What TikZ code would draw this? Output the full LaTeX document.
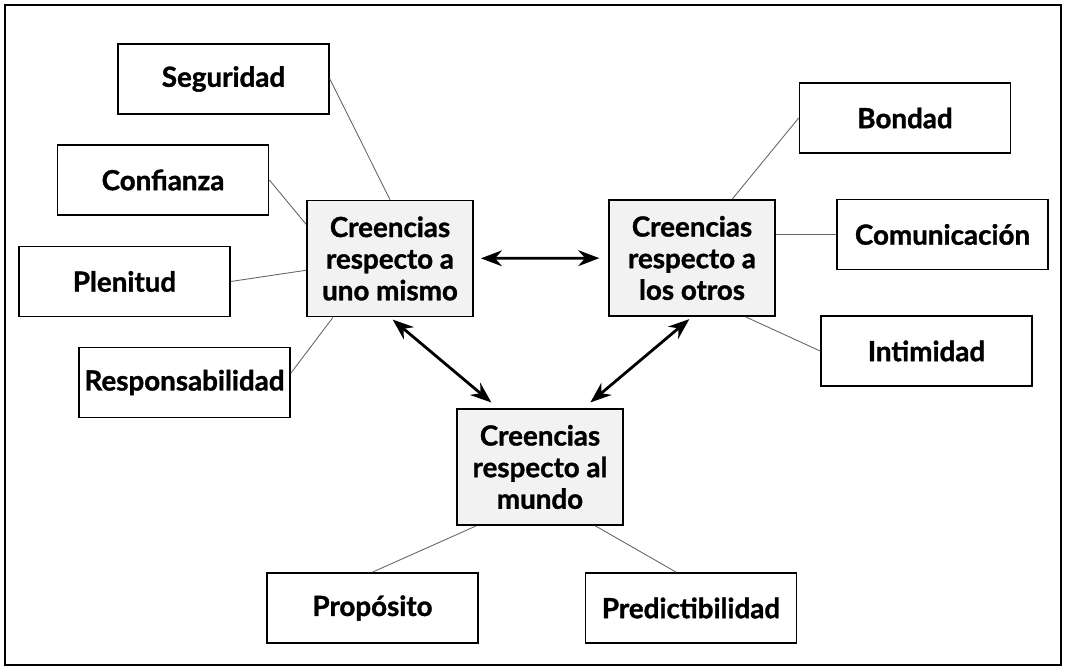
\documentclass[tikz,border=0pt]{standalone}
\usepackage{fontspec}
\setmainfont{Lato}[BoldFeatures={FakeBold=1.2}]
\usetikzlibrary{arrows.meta,calc}
\tikzset{
  concetto/.style={draw=black, line width=1pt, minimum width=4.22cm, minimum height=1.4cm,
    inner sep=0pt, font=\fontsize{15.8}{18}\selectfont\bfseries},
  credenza/.style={concetto, fill=gray!10, minimum width=3.32cm, minimum height=2.32cm, align=center},
  legame/.style={draw=gray!80!black, line width=0.5pt},
  freccia/.style={{Stealth[length=12pt,width=9pt]}-{Stealth[length=12pt,width=9pt]}, line width=1.6pt},
}
\begin{document}
\begin{tikzpicture}[x=0.02cm, y=-0.02cm]
        \useasboundingbox (0,0) rectangle (1066,671);
        % Cornice
        \draw[line width=1.5pt] (5,5) rectangle (1061,665);

        % Credenze centrali
        \node[credenza] (c1) at (390,258.5) {Creencias\\respecto a\\uno mismo};
        \node[credenza] (c2) at (692,258) {Creencias\\respecto a\\los otros};
        \node[credenza] (c3) at (540,467) {Creencias\\respecto al\\mundo};

        % Concetti esterni
        \node[concetto] (seg) at (223.5,79) {Seguridad};
        \node[concetto] (conf) at (163,180) {Confianza};
        \node[concetto] (plen) at (124.5,281.5) {Plenitud};
        \node[concetto] (resp) at (184.5,382.5) {Responsabilidad};
        \node[concetto] (bond) at (905,118) {Bondad};
        \node[concetto] (com) at (942.5,234.5) {Comunicación};
        \node[concetto] (intim) at (926.5,351) {Intimidad};
        \node[concetto] (prop) at (372.5,608) {Propósito};
        \node[concetto] (pred) at (691,608) {Predictibilidad};

        % Frecce doppie
        \draw[freccia, shorten <=4pt, shorten >=5pt] (c1) -- (c2);
        \draw[freccia, shorten <=2pt, shorten >=5pt] (c1.south) -- ($(c3.north west)!0.25!(c3.north east)$);
        \draw[freccia, shorten <=2pt, shorten >=5pt] (c2.south) -- ($(c3.north west)!0.76!(c3.north east)$);

        % Legami
        \draw[legame] (seg.east) -- (c1.north);
        \draw[legame] (conf.east) -- ($(c1.north west)!0.21!(c1.south west)$);
        \draw[legame] (plen.east) -- ($(c1.north west)!0.6!(c1.south west)$);
        \draw[legame] ($(resp.north east)!0.37!(resp.south east)$) -- ($(c1.south west)!0.16!(c1.south east)$);
        \draw[legame] (bond.west) -- ($(c2.north west)!0.74!(c2.north east)$);
        \draw[legame] (c2.east |- com.west) -- (com.west);
        \draw[legame] ($(c2.south west)!0.82!(c2.south east)$) -- (intim.west);
        \draw[legame] ($(c3.south west)!0.12!(c3.south east)$) -- (prop.north);
        \draw[legame] ($(c3.south west)!0.83!(c3.south east)$) -- ($(pred.north west)!0.43!(pred.north east)$);
    \end{tikzpicture}
\end{document}
